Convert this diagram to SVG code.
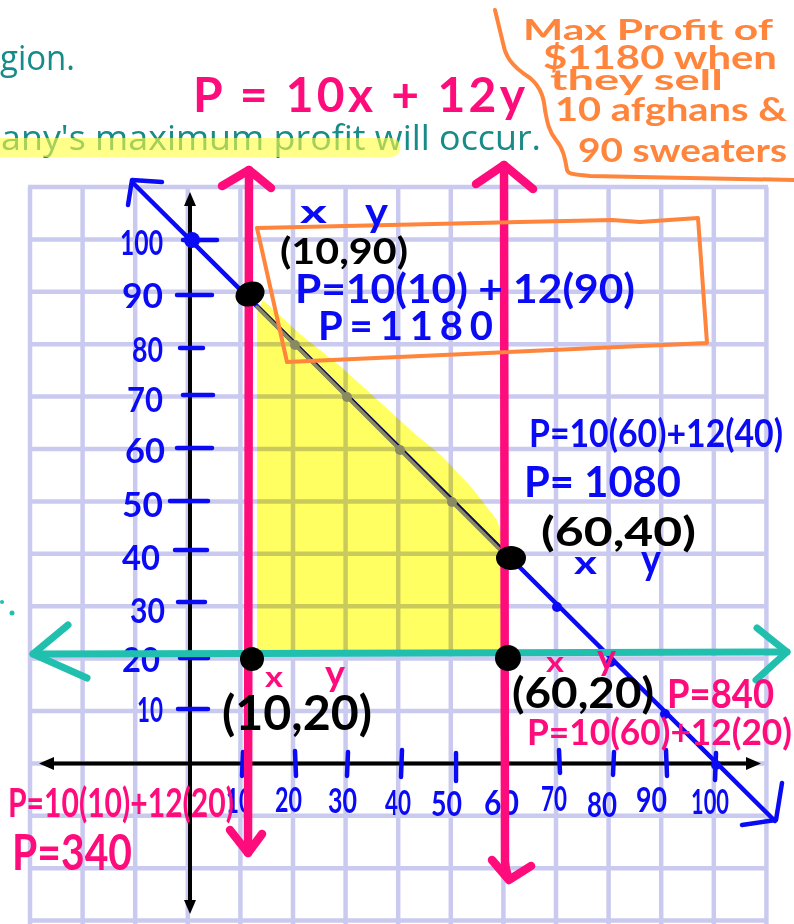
<svg xmlns="http://www.w3.org/2000/svg" width="794" height="924" viewBox="0 0 794 924">
<defs>
<style>
.grid line{stroke:#cacaf0;stroke-width:4.5}
.typed{font-family:"Open Sans","Noto Sans",sans-serif;fill:#178a8a}
.hw{font-family:Lato,"Noto Sans",sans-serif;font-weight:700}
.blue{fill:#0a0af5}
.pink{fill:#ff0c7c}
.blk{fill:#000}
.org{fill:#ff843c}
.bs{stroke:#0a0af5;stroke-width:4.5;stroke-linecap:round;stroke-linejoin:round;fill:none}
.ps{stroke:#ff0c7c;stroke-width:8.5;stroke-linecap:round;stroke-linejoin:round;fill:none}
.ts{stroke:#20bfae;stroke-width:7;stroke-linecap:round;stroke-linejoin:round;fill:none}
.os{stroke:#ff843c;stroke-width:4;stroke-linecap:round;stroke-linejoin:round;fill:none}
.ax{stroke:#000;stroke-width:4;fill:none}
</style>
</defs>
<rect width="794" height="924" fill="#fff"/>

<g id="grid" class="grid">
<line x1="30" y1="187" x2="30" y2="924"/>
<line x1="82.6" y1="187" x2="82.6" y2="924"/>
<line x1="135.2" y1="187" x2="135.2" y2="924"/>
<line x1="187.8" y1="187" x2="187.8" y2="924"/>
<line x1="240.4" y1="187" x2="240.4" y2="924"/>
<line x1="293" y1="187" x2="293" y2="924"/>
<line x1="345.6" y1="187" x2="345.6" y2="924"/>
<line x1="398.2" y1="187" x2="398.2" y2="924"/>
<line x1="450.8" y1="187" x2="450.8" y2="924"/>
<line x1="503.4" y1="187" x2="503.4" y2="924"/>
<line x1="556" y1="187" x2="556" y2="924"/>
<line x1="608.6" y1="187" x2="608.6" y2="924"/>
<line x1="661.2" y1="187" x2="661.2" y2="924"/>
<line x1="713.8" y1="187" x2="713.8" y2="924"/>
<line x1="766.4" y1="187" x2="766.4" y2="924"/>
<line x1="28" y1="187" x2="768" y2="187"/>
<line x1="28" y1="239.4" x2="768" y2="239.4"/>
<line x1="28" y1="291.8" x2="768" y2="291.8"/>
<line x1="28" y1="344.2" x2="768" y2="344.2"/>
<line x1="28" y1="396.6" x2="768" y2="396.6"/>
<line x1="28" y1="449" x2="768" y2="449"/>
<line x1="28" y1="501.4" x2="768" y2="501.4"/>
<line x1="28" y1="553.8" x2="768" y2="553.8"/>
<line x1="28" y1="606.2" x2="768" y2="606.2"/>
<line x1="28" y1="658.6" x2="768" y2="658.6"/>
<line x1="28" y1="711" x2="768" y2="711"/>
<line x1="28" y1="763.4" x2="768" y2="763.4"/>
<line x1="28" y1="815.8" x2="768" y2="815.8"/>
<line x1="28" y1="868.2" x2="768" y2="868.2"/>
<line x1="28" y1="920.6" x2="768" y2="920.6"/>
</g>

<g id="question-text">
<text class="typed" x="0" y="70" font-size="34" textLength="75" lengthAdjust="spacingAndGlyphs">gion.</text>
<text class="typed" x="1" y="150" font-size="34" textLength="540" lengthAdjust="spacingAndGlyphs">any's maximum profit will occur.</text>
<path d="M0,147.5 L391,147.5" stroke="#ffff3c" stroke-width="19" stroke-linecap="round" opacity="0.6"/>
<circle cx="2" cy="602" r="2" fill="#20bfae"/>
<circle cx="12" cy="613" r="2.5" fill="#20bfae"/>
</g>

<g id="axes">
<line class="ax" x1="190" y1="203" x2="190" y2="902"/>
<polygon points="190,192 184,206 196,206" fill="#000"/>
<polygon points="190,914 184,900 196,900" fill="#000"/>
<line class="ax" x1="52" y1="763.5" x2="748" y2="763.5"/>
<polygon points="39,763.5 54,757 54,770" fill="#000"/>
<polygon points="761,763.5 746,757 746,770" fill="#000"/>
</g>

<g id="y-axis-ticks" class="bs">
<line x1="183" y1="240" x2="217" y2="240"/>
<line x1="177" y1="295" x2="212" y2="295"/>
<line x1="180" y1="348" x2="203" y2="348"/>
<line x1="183" y1="395" x2="213" y2="395"/>
<line x1="177" y1="448" x2="212" y2="448"/>
<line x1="170" y1="501" x2="208" y2="501"/>
<line x1="175" y1="550" x2="207" y2="550"/>
<line x1="178" y1="602" x2="205" y2="602"/>
<line x1="180" y1="658" x2="208" y2="658"/>
<line x1="178" y1="709" x2="208" y2="709"/>
</g>
<g id="x-axis-ticks" class="bs">
<line x1="243" y1="752" x2="242" y2="776"/>
<line x1="295" y1="751" x2="296" y2="776"/>
<line x1="348" y1="752" x2="347" y2="776"/>
<line x1="402" y1="750" x2="401" y2="777"/>
<line x1="456" y1="753" x2="456" y2="781"/>
<line x1="559" y1="750" x2="560" y2="773"/>
<line x1="614" y1="752" x2="613" y2="775"/>
<line x1="666" y1="750" x2="667" y2="776"/>
<line x1="716" y1="753" x2="715" y2="780"/>
</g>

<g id="y-axis-labels" class="hw blue" font-size="34">
<text x="120" y="255" textLength="43" lengthAdjust="spacingAndGlyphs">100</text>
<text x="122" y="308" textLength="41" lengthAdjust="spacingAndGlyphs">90</text>
<text x="132" y="362" textLength="31" lengthAdjust="spacingAndGlyphs">80</text>
<text x="127" y="412" textLength="36" lengthAdjust="spacingAndGlyphs">70</text>
<text x="125" y="463" textLength="40" lengthAdjust="spacingAndGlyphs">60</text>
<text x="122" y="517" textLength="41" lengthAdjust="spacingAndGlyphs">50</text>
<text x="122" y="570" textLength="38" lengthAdjust="spacingAndGlyphs">40</text>
<text x="130" y="623" textLength="35" lengthAdjust="spacingAndGlyphs">30</text>
<text x="122" y="672" textLength="38" lengthAdjust="spacingAndGlyphs">20</text>
<text x="137" y="722" textLength="26" lengthAdjust="spacingAndGlyphs">10</text>
</g>
<g id="x-axis-labels" class="hw blue" font-size="34">
<text x="226" y="813" textLength="26" lengthAdjust="spacingAndGlyphs">10</text>
<text x="275" y="812" textLength="27" lengthAdjust="spacingAndGlyphs">20</text>
<text x="328" y="813" textLength="29" lengthAdjust="spacingAndGlyphs">30</text>
<text x="385" y="815" textLength="26" lengthAdjust="spacingAndGlyphs">40</text>
<text x="431" y="816" textLength="31" lengthAdjust="spacingAndGlyphs">50</text>
<text x="484" y="815" textLength="35" lengthAdjust="spacingAndGlyphs">60</text>
<text x="541" y="811" textLength="26" lengthAdjust="spacingAndGlyphs">70</text>
<text x="587" y="817" textLength="30" lengthAdjust="spacingAndGlyphs">80</text>
<text x="636" y="812" textLength="31" lengthAdjust="spacingAndGlyphs">90</text>
<text x="691" y="814" textLength="38" lengthAdjust="spacingAndGlyphs">100</text>
</g>

<g id="constraint-line-x-plus-y-100">
<line class="bs" x1="133" y1="183" x2="775" y2="821" stroke-width="3.5"/>
<polyline class="bs" points="162,182 132,180 128,205"/>
<polyline class="bs" points="782,783 776,820 742,825"/>
<circle cx="192" cy="240" r="8" fill="#0a0af5"/>
<circle cx="557" cy="607" r="5" fill="#0a0af5"/>
<circle cx="611" cy="662" r="5" fill="#0a0af5"/>
<circle cx="665" cy="714" r="5" fill="#0a0af5"/>
<circle cx="716" cy="765" r="5" fill="#0a0af5"/>
</g>

<g id="feasible-region">
<path d="M257,312 L263,300 L300,334 L340,366 L380,402 L415,434 L442,456 L472,488 L497,520 L505,545 L505,650 L257,650 Z" fill="#ffff62" style="mix-blend-mode:multiply"/>
<line x1="257" y1="307" x2="505" y2="555" stroke="#8a8a62" stroke-width="3.5" stroke-linecap="round"/>
<circle cx="295" cy="345" r="5" fill="#8a8a62"/>
<circle cx="347" cy="397" r="5" fill="#8a8a62"/>
<circle cx="400" cy="450" r="5" fill="#8a8a62"/>
<circle cx="452" cy="502" r="5" fill="#8a8a62"/>
</g>

<g id="line-y-20">
<line class="ts" x1="33" y1="654" x2="787" y2="652"/>
<polyline class="ts" points="68,625 33,654 87,678"/>
<polyline class="ts" points="757,628 787,652 756,680"/>
</g>

<g id="line-x-10">
<line class="ps" x1="249" y1="170" x2="248" y2="853"/>
<polyline class="ps" points="222,186 249,170 271,188"/>
<polyline class="ps" points="230,830 248,853 262,834"/>
</g>
<g id="line-x-60">
<path class="ps" d="M504,165 L505,862 Q506,872 509,879"/>
<polyline class="ps" points="476,184 504,165 533,189"/>
<polyline class="ps" points="492,860 509,880 531,866"/>
</g>

<g id="vertices">
<ellipse cx="250" cy="294" rx="15" ry="12" transform="rotate(-25 250 294)" fill="#000"/>
<ellipse cx="511" cy="558" rx="15" ry="12" fill="#000"/>
<circle cx="252" cy="659" r="12" fill="#000"/>
<circle cx="508" cy="658" r="13" fill="#000"/>
</g>

<g id="vertex-10-90">
<path class="os" d="M257,228 L612,220 L640,222 L698,218 L707,343 L287,362 Z"/>
<text class="hw blue" x="300" y="223" font-size="32" textLength="27" lengthAdjust="spacingAndGlyphs">x</text>
<text class="hw blue" x="365" y="226" font-size="40" textLength="23" lengthAdjust="spacingAndGlyphs">y</text>
<text class="hw blk" x="280" y="264" font-size="36" textLength="128" lengthAdjust="spacingAndGlyphs">(10,90)</text>
<text class="hw blue" x="295" y="303" font-size="40" textLength="340" lengthAdjust="spacingAndGlyphs">P=10(10) + 12(90)</text>
<text class="hw blue" x="318" y="340" font-size="40" textLength="175" lengthAdjust="spacing">P=1180</text>
</g>

<g id="vertex-60-40">
<text class="hw blue" x="529" y="447" font-size="38" textLength="254" lengthAdjust="spacingAndGlyphs">P=10(60)+12(40)</text>
<text class="hw blue" x="524" y="497" font-size="42" textLength="157" lengthAdjust="spacingAndGlyphs">P= 1080</text>
<text class="hw blk" x="541" y="546" font-size="40" textLength="155" lengthAdjust="spacingAndGlyphs">(60,40)</text>
<text class="hw blue" x="574" y="574" font-size="32" textLength="23" lengthAdjust="spacingAndGlyphs">x</text>
<text class="hw blue" x="641" y="574" font-size="42" textLength="20" lengthAdjust="spacingAndGlyphs">y</text>
</g>

<g id="vertex-10-20">
<text class="hw pink" x="265" y="687" font-size="28" textLength="18" lengthAdjust="spacingAndGlyphs">x</text>
<text class="hw pink" x="325" y="686" font-size="36" textLength="20" lengthAdjust="spacingAndGlyphs">y</text>
<text class="hw blk" x="222" y="730" font-size="48" textLength="150" lengthAdjust="spacingAndGlyphs">(10,20)</text>
<text class="hw pink" x="8" y="817" font-size="40" textLength="226" lengthAdjust="spacingAndGlyphs">P=10(10)+12(20)</text>
<text class="hw pink" x="12" y="870" font-size="50" textLength="120" lengthAdjust="spacingAndGlyphs">P=340</text>
</g>

<g id="vertex-60-20">
<text class="hw pink" x="546" y="672" font-size="28" textLength="18" lengthAdjust="spacingAndGlyphs">x</text>
<text class="hw pink" x="597" y="670" font-size="36" textLength="19" lengthAdjust="spacingAndGlyphs">y</text>
<text class="hw blk" x="512" y="708" font-size="42" textLength="142" lengthAdjust="spacingAndGlyphs">(60,20)</text>
<text class="hw pink" x="667" y="708" font-size="40" textLength="107" lengthAdjust="spacingAndGlyphs">P=840</text>
<text class="hw pink" x="527" y="745" font-size="36" textLength="265" lengthAdjust="spacingAndGlyphs">P=10(60)+12(20)</text>
</g>

<g id="objective">
<text class="hw pink" x="193" y="112" font-size="48" textLength="332" lengthAdjust="spacing">P = 10x + 12y</text>
</g>

<g id="conclusion-note">
<path class="os" d="M495,10 L503,43 C505,55 510,65 530,78 C542,88 544,100 545,110 C547,120 548,130 556,140 C563,148 565,158 567,170 C569,175 575,174 590,176 L794,180"/>
<text class="hw org" x="523" y="40" font-size="28" textLength="250" lengthAdjust="spacingAndGlyphs">Max Profit of</text>
<text class="hw org" x="543" y="69" font-size="32" textLength="234" lengthAdjust="spacingAndGlyphs">$1180 when</text>
<text class="hw org" x="550" y="90" font-size="28" textLength="173" lengthAdjust="spacingAndGlyphs">they sell</text>
<text class="hw org" x="555" y="121" font-size="32" textLength="232" lengthAdjust="spacingAndGlyphs">10 afghans &amp;</text>
<text class="hw org" x="578" y="162" font-size="32" textLength="209" lengthAdjust="spacingAndGlyphs">90 sweaters</text>
</g>
</svg>
